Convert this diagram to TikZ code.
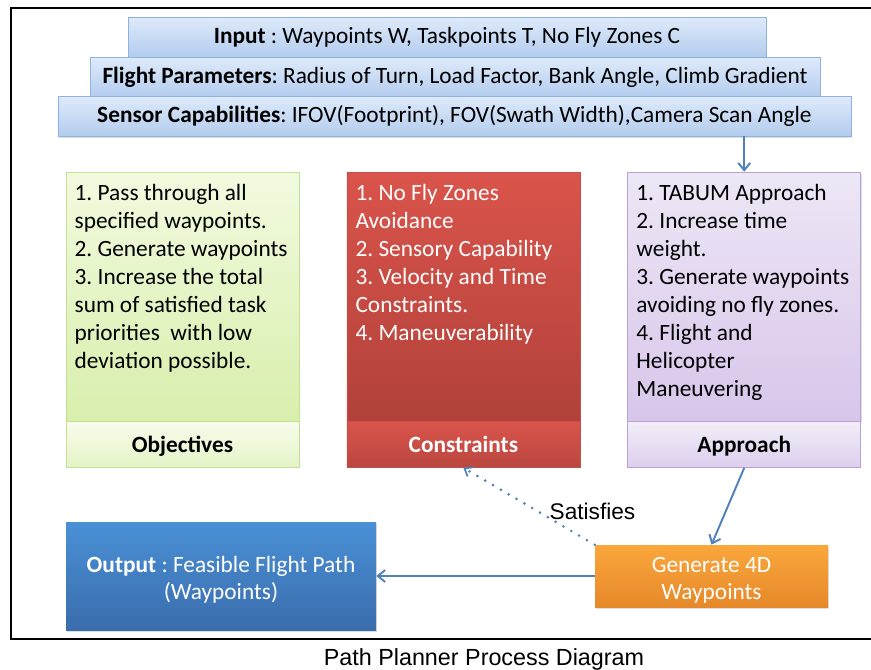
\documentclass[tikz,border=0pt]{standalone}
\usepackage{fontspec}
\setmainfont{Carlito}
\newfontfamily\arialfont{Liberation Sans}
\usetikzlibrary{positioning,arrows.meta,shadows}
\frenchspacing

\definecolor{linkblue}{HTML}{4F81BD}
\definecolor{bartop}{HTML}{DEEAFA}
\definecolor{barbottom}{HTML}{B3CCEE}
\definecolor{barline}{HTML}{8DB3E2}
\definecolor{objtop}{HTML}{F2FADF}
\definecolor{objbottom}{HTML}{D8EFAC}
\definecolor{objline}{HTML}{C3DE96}
\definecolor{contop}{HTML}{DA544B}
\definecolor{conbottom}{HTML}{B1413A}
\definecolor{conline}{HTML}{C0504D}
\definecolor{aptop}{HTML}{EEE7F6}
\definecolor{apbottom}{HTML}{D7C6EA}
\definecolor{apline}{HTML}{B7A2D3}
\definecolor{outtop}{HTML}{4A90D6}
\definecolor{outbottom}{HTML}{3A6DAC}
\definecolor{gentop}{HTML}{FAA73C}
\definecolor{genbottom}{HTML}{E6882A}

\tikzstyle{arrow} = [linkblue, line width=1.45pt, -{Straight Barb[length=5.5pt,width=9pt]}]
\tikzstyle{dotarrow} = [linkblue, line width=2.2pt, line cap=round, dash pattern=on 0pt off 6.8pt,
                        -{Straight Barb[length=5pt,width=8pt,line width=1.3pt]}]
\tikzstyle{frame} = [black, line width=2pt]
\tikzstyle{bar} = [
    rectangle,
    draw=barline,
    top color=bartop,
    bottom color=barbottom,
    minimum height=30pt,
    inner sep=0pt,
    drop shadow={opacity=0.25, shadow xshift=0.8pt, shadow yshift=-1.2pt},
    font=\fontsize{17.5}{21}\selectfont
]
\tikzstyle{body} = [
    rectangle,
    minimum width=174.75pt,
    minimum height=186.75pt,
    inner sep=0pt
]
\tikzstyle{strip} = [
    rectangle,
    minimum width=174.75pt,
    minimum height=34.5pt,
    inner sep=0pt,
    text depth=1pt,
    font=\fontsize{17.5}{21}\selectfont\bfseries
]
\tikzstyle{boxtext} = [
    align=left,
    inner xsep=6.5pt,
    inner ysep=9.5pt,
    font=\fontsize{17.5}{21}\selectfont
]
\tikzstyle{resultbox} = [
    rectangle,
    align=center,
    text=white,
    inner sep=0pt,
    text height=38.5pt,
    drop shadow={opacity=0.25, shadow xshift=0.8pt, shadow yshift=-1.2pt},
    font=\fontsize{17.5}{20.5}\selectfont
]
\tikzstyle{shade} = [drop shadow={opacity=0.25, shadow xshift=0.8pt, shadow yshift=-1.2pt}]

\begin{document}
\begin{tikzpicture}[x=0.75pt, y=-0.75pt, node distance=35.5pt]
	\useasboundingbox (0,0) rectangle (871,669);

	% Frame
	\draw[frame] (875,8) -- (11,8) -- (11,639) -- (875,639);

	% Input bars
	\node[bar, minimum width=478.5pt] (input) at (447,37)
		{\textbf{Input} : Waypoints W, Taskpoints T, No Fly Zones C};
	\node[bar, minimum width=547.5pt, below=0pt of input, xshift=6pt] (flight)
		{\textbf{Flight Parameters}: Radius of Turn, Load Factor, Bank Angle, Climb Gradient};
	\node[bar, minimum width=594.75pt, below=-1.5pt of flight, xshift=-0.4pt] (sensor)
		{\textbf{Sensor Capabilities}: IFOV(Footprint), FOV(Swath Width),Camera Scan Angle};

	% Objectives
	\node[body, shade, draw=objline, top color=objtop, bottom color=objbottom] (objbody) at (182.5,296.5) {};
	\node[strip, draw=objline, top color=objtop!60!white, bottom color=objbottom!70!white,
	      below=0pt of objbody] (objlabel) {Objectives};
	\node[boxtext, anchor=north west] (objtext) at (objbody.north west)
		{1. Pass through all\\specified waypoints.\\2. Generate waypoints\\3. Increase the total\\
		 sum of satisfied task\\priorities\ \ with low\\deviation possible.};

	% Constraints
	\node[body, shade, draw=conline, top color=contop, bottom color=conbottom, right=of objbody] (conbody) {};
	\node[strip, draw=conline, top color=contop, bottom color=contop!85!black, text=white,
	      below=0pt of conbody] (conlabel) {Constraints};
	\node[boxtext, text=white, anchor=north west] (context) at (conbody.north west)
		{1. No Fly Zones\\Avoidance\\2. Sensory Capability\\3. Velocity and Time\\Constraints.\\4. Maneuverability};

	% Approach
	\node[body, shade, draw=apline, top color=aptop, bottom color=apbottom, right=of conbody] (apbody) {};
	\node[strip, draw=apline, top color=aptop!70!white, bottom color=apbottom!85!white,
	      below=0pt of apbody] (aplabel) {Approach};
	\node[boxtext, anchor=north west] (aptext) at (apbody.north west)
		{1. TABUM Approach\\2. Increase time\\weight.\\3. Generate waypoints\\avoiding no fly zones.\\
		 4. Flight and\\Helicopter\\Maneuvering};

	% Results
	\node[resultbox, top color=outtop, bottom color=outbottom, minimum width=232.5pt, minimum height=81pt]
		(output) at (221,576) {\textbf{Output} : Feasible Flight Path\\(Waypoints)};
	\node[resultbox, top color=gentop, bottom color=genbottom, minimum width=174.75pt, minimum height=46.5pt]
		(gen) at (711.5,576) {Generate 4D\\Waypoints};

	% Arrows
	\draw[arrow] (apbody.north |- sensor.south) -- (apbody.north);
	\draw[arrow] (aplabel.south) -- (gen.north);
	\draw[arrow] (gen.west) -- (output.east);
	\draw[dotarrow] (gen.north west) -- node[right=11pt, yshift=-4pt, text=black,
		font=\arialfont\fontsize{17}{20}\selectfont] (satlabel) {Satisfies} (conlabel.south);

	% Caption
	\node[font=\arialfont\fontsize{17.5}{20}\selectfont] (caption) at (484,659) {Path Planner Process Diagram};
\end{tikzpicture}
\end{document}
